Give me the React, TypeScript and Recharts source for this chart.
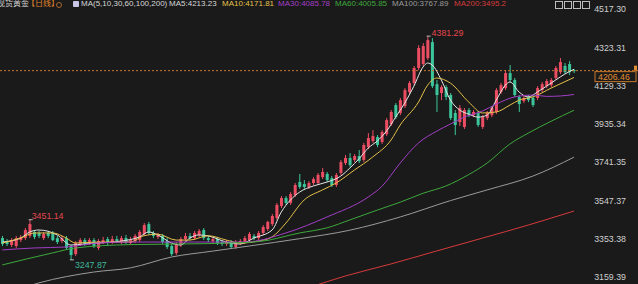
import React from 'react';
import {
  ComposedChart,
  Bar,
  Line,
  XAxis,
  YAxis,
  ReferenceLine,
  ReferenceDot,
} from 'recharts';

// daily OHLC
const opens = [
  3358, 3343, 3323, 3318, 3348, 3358, 3369, 3389, 3384, 3358,
  3384, 3384, 3358, 3343, 3358, 3313, 3277, 3328, 3348, 3333,
  3348, 3308, 3338, 3353, 3333, 3353, 3338, 3358, 3333, 3343,
  3348, 3379, 3429, 3384, 3364, 3369, 3343, 3318, 3282, 3323,
  3353, 3369, 3358, 3374, 3399, 3358, 3343, 3353, 3338, 3328,
  3338, 3313, 3333, 3338, 3348, 3369, 3358, 3384, 3404, 3429,
  3460, 3521, 3561, 3536, 3576, 3642, 3632, 3617, 3637, 3637,
  3667, 3683, 3662, 3627, 3688, 3738, 3764, 3754, 3774, 3754,
  3819, 3850, 3870, 3845, 3885, 3936, 4032, 3992, 4027, 4098,
  4144, 4220, 4240, 4270, 4351, 4138, 4093, 4123, 4083, 3992,
  3946, 3921, 4007, 3981, 3992, 3921, 3966, 3981, 3997, 4098,
  4118, 4194, 4159, 4073, 4052, 4073, 4068, 4068, 4108, 4128,
  4133, 4169, 4199, 4230, 4240, 4209,
];
const highs = [
  3369, 3353, 3358, 3369, 3374, 3409, 3451.14, 3399, 3394, 3389,
  3394, 3394, 3369, 3369, 3369, 3323, 3343, 3358, 3358, 3358,
  3358, 3353, 3364, 3364, 3369, 3369, 3369, 3374, 3364, 3379,
  3399, 3434, 3440, 3394, 3384, 3379, 3358, 3328, 3338, 3364,
  3384, 3384, 3394, 3404, 3409, 3369, 3364, 3364, 3348, 3348,
  3348, 3348, 3353, 3369, 3389, 3379, 3394, 3424, 3446, 3480,
  3536, 3571, 3571, 3591, 3637, 3683, 3652, 3647, 3667, 3688,
  3713, 3693, 3673, 3688, 3754, 3779, 3789, 3784, 3804, 3840,
  3890, 3905, 3880, 3905, 3966, 4007, 4042, 4068, 4118, 4154,
  4230, 4336, 4346, 4381.29, 4371, 4159, 4133, 4133, 4093, 4007,
  4032, 4017, 4017, 4007, 4002, 3981, 4002, 4027, 4118, 4144,
  4209, 4235, 4169, 4083, 4078, 4083, 4078, 4128, 4149, 4164,
  4169, 4230, 4270, 4245, 4255, 4214,
];
const lows = [
  3318, 3318, 3313, 3308, 3338, 3348, 3358, 3353, 3358, 3348,
  3358, 3343, 3328, 3333, 3298, 3247.87, 3267, 3318, 3318, 3323,
  3308, 3298, 3328, 3323, 3328, 3333, 3328, 3328, 3323, 3333,
  3338, 3369, 3374, 3358, 3353, 3328, 3303, 3267, 3272, 3313,
  3343, 3348, 3348, 3364, 3348, 3338, 3333, 3323, 3318, 3318,
  3303, 3303, 3323, 3328, 3338, 3348, 3348, 3374, 3394, 3419,
  3450, 3510, 3526, 3526, 3566, 3607, 3607, 3607, 3627, 3627,
  3657, 3642, 3617, 3617, 3678, 3728, 3718, 3743, 3738, 3743,
  3809, 3840, 3819, 3835, 3875, 3926, 3961, 3981, 4017, 4088,
  4133, 4209, 4230, 4260, 4118, 3997, 4057, 4057, 3956, 3880,
  3926, 3911, 3971, 3971, 3921, 3911, 3956, 3971, 3987, 4088,
  4108, 4148, 4073, 3997, 4042, 4047, 4022, 4057, 4098, 4118,
  4123, 4159, 4189, 4189, 4184, 4194,
];
const closes = [
  3328, 3328, 3348, 3358, 3364, 3399, 3429, 3364, 3369, 3379,
  3369, 3348, 3338, 3358, 3308, 3272, 3333, 3348, 3328, 3348,
  3318, 3343, 3348, 3333, 3353, 3343, 3358, 3338, 3348, 3369,
  3389, 3424, 3384, 3369, 3374, 3338, 3313, 3277, 3328, 3353,
  3369, 3358, 3384, 3394, 3358, 3348, 3353, 3333, 3328, 3338,
  3313, 3338, 3343, 3358, 3379, 3358, 3384, 3414, 3440, 3470,
  3526, 3561, 3536, 3581, 3627, 3617, 3617, 3637, 3657, 3678,
  3693, 3652, 3627, 3678, 3743, 3764, 3728, 3774, 3748, 3830,
  3865, 3875, 3830, 3895, 3956, 3997, 3971, 4057, 4108, 4144,
  4220, 4321, 4331, 4361, 4128, 4083, 4123, 4073, 3966, 3931,
  4017, 4007, 3981, 3997, 3931, 3971, 3992, 4017, 4108, 4133,
  4194, 4159, 4083, 4037, 4068, 4057, 4032, 4118, 4138, 4154,
  4159, 4220, 4250, 4199, 4199, 4206.46,
];

// moving averages, [candle index, value] read at points along each line
const ma5Pts: [number, number][] = [
  [0, 3338], [4, 3358], [6, 3389], [8, 3399], [12, 3374], [15, 3323], [18, 3328],
  [21, 3333], [26, 3343], [30, 3364], [32, 3389], [34, 3374], [37, 3333], [39, 3323],
  [41, 3358], [43, 3374], [45, 3369], [49, 3338], [52, 3328], [55, 3358], [59, 3399],
  [61, 3490], [63, 3551], [65, 3591], [68, 3622], [71, 3642], [74, 3672], [76, 3713],
  [78, 3760], [80, 3814], [82, 3850], [84, 3900], [86, 3971], [88, 4042], [90, 4128],
  [92, 4225], [93, 4245], [94, 4235], [96, 4159], [98, 4057], [100, 4007], [102, 3986],
  [104, 3971], [106, 3981], [108, 4057], [110, 4133], [111, 4149], [113, 4098],
  [115, 4073], [117, 4098], [119, 4128], [121, 4159], [123, 4189], [125, 4213.23],
];
const ma10Pts: [number, number][] = [
  [0, 3333], [4, 3358], [7, 3384], [11, 3384], [14, 3358], [16, 3333], [21, 3338],
  [28, 3338], [31, 3370], [34, 3378], [38, 3348], [41, 3348], [45, 3370], [49, 3348],
  [52, 3333], [56, 3343], [59, 3364], [62, 3434], [66, 3551], [70, 3602], [73, 3637],
  [77, 3703], [81, 3769], [85, 3855], [87, 3931], [91, 4047], [93, 4133], [95, 4169],
  [98, 4143], [102, 4047], [105, 3992], [108, 3997], [111, 4032], [113, 4057],
  [116, 4073], [120, 4118], [125, 4171.81],
];
const ma30Pts: [number, number][] = [
  [0, 3298], [7, 3308], [14, 3313], [21, 3333], [28, 3338], [43, 3338], [53, 3338],
  [62, 3384], [71, 3465], [80, 3566], [83, 3620], [87, 3738], [91, 3840], [95, 3900],
  [98, 3936], [101, 3971], [105, 4002], [108, 4037], [112, 4073], [116, 4083],
  [119, 4076], [122, 4078], [125, 4085.78],
];
const ma60Pts: [number, number][] = [
  [0, 3222], [11, 3283], [16, 3308], [28, 3325], [45, 3330], [56, 3340], [65, 3384],
  [71, 3410], [76, 3450], [82, 3500], [87, 3540], [92, 3585], [97, 3622], [102, 3680],
  [106, 3738], [111, 3835], [115, 3890], [120, 3950], [125, 4005.85],
];
const ma100Pts: [number, number][] = [
  [0, 3070], [8, 3131], [20, 3186], [28, 3207], [37, 3262], [46, 3292], [54, 3318],
  [65, 3355], [76, 3398], [87, 3465], [98, 3548], [106, 3602], [116, 3672],
  [125, 3767.89],
];
const ma200Pts: [number, number][] = [
  [60, 3060], [68, 3115], [75, 3166], [85, 3227], [95, 3293], [105, 3358],
  [115, 3424], [125, 3495.2],
];

const yTicks = [3159.39, 3353.38, 3547.37, 3741.35, 3935.34, 4129.33, 4323.31, 4517.3];
const lastPrice = 4206.46;
const peakHigh = { idx: 93, value: 4381.29 };
const earlyHigh = { idx: 6, value: 3451.14 };
const earlyLow = { idx: 15, value: 3247.87 };

const maNames = ['MA5', 'MA10', 'MA30', 'MA60', 'MA100', 'MA200'];
const maLast = [4213.23, 4171.81, 4085.78, 4005.85, 3767.89, 3495.2];

const UP = '#ec4d63';
const DOWN = '#3cc59a';
const maColors = ['#e6e6e6', '#e5c14a', '#a23ec6', '#3da83d', '#9a9a9a', '#d63b3b'];
const maKeys = ['ma5', 'ma10', 'ma30', 'ma60', 'ma100', 'ma200'];
const maPts = [ma5Pts, ma10Pts, ma30Pts, ma60Pts, ma100Pts, ma200Pts];

const rows = opens.map((open, i) => {
  const row: any = {
    i,
    open,
    high: highs[i],
    low: lows[i],
    close: closes[i],
    range: [lows[i], highs[i]],
  };
  maKeys.forEach((k, j) => {
    const hit = maPts[j].find((p) => p[0] === i);
    row[k] = hit ? hit[1] : null;
  });
  return row;
});

const Candle = (props: any) => {
  const { x, y, width, height, payload } = props;
  const { open, close, high, low } = payload;
  const top = height < 0 ? y + height : y;
  const h = Math.abs(height);
  const k = h / (high - low);
  const bodyTop = top + (high - Math.max(open, close)) * k;
  const bodyH = Math.max(1, Math.abs(close - open) * k);
  const color = close >= open ? UP : DOWN;
  const cx = x + width / 2;
  return (
    <g>
      <line x1={cx} x2={cx} y1={top} y2={top + h} stroke={color} strokeWidth={1} />
      <rect x={x} y={bodyTop} width={width} height={bodyH} fill={color} />
    </g>
  );
};

const AxisTick = (props: any) => {
  const { x, y, payload } = props;
  return (
    <text x={x - 10} y={y} dy={3} textAnchor="end" fill="#cfcfcf" fontSize={8.8}>
      {payload.value.toFixed(2)}
    </text>
  );
};

const PriceTag = (props: any) => {
  const vb = props.viewBox;
  const right = vb.x + vb.width;
  return (
    <g>
      <rect x={right - 43} y={vb.y + 1} width={41} height={10} fill="#1a1a1a" stroke="#c9782a" strokeWidth={1} />
      <text x={right - 40} y={vb.y + 9.5} fill="#e08d33" fontSize={8.8}>
        {lastPrice.toFixed(2)}
      </text>
      <rect x={right - 4} y={vb.y - 5} width={3} height={5} fill="#e08d33" />
    </g>
  );
};

const markLabel = (text: string, color: string, dx: number, dy: number) => (p: any) => (
  <g>
    <line x1={p.cx - 1} x2={p.cx + 3} y1={p.cy} y2={p.cy} stroke="#bbbbbb" strokeWidth={1} />
    <text x={p.cx + dx} y={p.cy + dy} fill={color} fontSize={8.8}>
      {text}
    </text>
  </g>
);

const headerLeft = [169, 222, 278, 335, 392, 454];

const App: React.FC = () => {
  return (
    <div
      style={{
        position: 'absolute',
        left: 0,
        top: 0,
        width: 638,
        height: 284,
        background: '#1a1a1a',
        overflow: 'hidden',
        fontFamily: '"Liberation Sans", "Noto Sans CJK SC", sans-serif',
      }}
    >
      <ComposedChart width={638} height={284} data={rows} margin={{ top: 0, right: 0, left: 0, bottom: 0 }}>
        <XAxis dataKey="i" type="number" domain={[-0.5, 139]} hide />
        <YAxis
          orientation="right"
          mirror
          domain={[3125.4, 4564.4]}
          allowDataOverflow
          ticks={yTicks}
          interval={0}
          axisLine={false}
          tickLine={false}
          tickSize={0}
          tick={<AxisTick />}
        />
        <ReferenceLine
          y={lastPrice}
          stroke="#c9782a"
          strokeDasharray="2 2"
          label={(p: any) => <PriceTag {...p} />}
        />
        <Bar dataKey="range" barSize={3} shape={<Candle />} isAnimationActive={false} />
        {maKeys.map((k, j) => (
          <Line
            key={k}
            type="monotone"
            dataKey={k}
            stroke={maColors[j]}
            strokeWidth={1}
            dot={false}
            activeDot={false}
            connectNulls
            isAnimationActive={false}
          />
        ))}
        <ReferenceDot
          x={peakHigh.idx}
          y={peakHigh.value}
          r={0}
          shape={markLabel(peakHigh.value.toFixed(2), '#e5484f', 4, 0)}
        />
        <ReferenceDot
          x={earlyHigh.idx}
          y={earlyHigh.value}
          r={0}
          shape={markLabel(earlyHigh.value.toFixed(2), '#e5484f', 2, -1)}
        />
        <ReferenceDot
          x={earlyLow.idx}
          y={earlyLow.value}
          r={0}
          shape={markLabel(earlyLow.value.toFixed(2), '#3fb89a', 4, 8)}
        />
      </ComposedChart>

      <div style={{ position: 'absolute', left: 0, top: -1, width: 638, height: 10, fontSize: 8, lineHeight: '10px', whiteSpace: 'nowrap' }}>
        <span style={{ position: 'absolute', left: -3, color: '#d0d0d0' }}>现货黄金</span>
        <span style={{ position: 'absolute', left: 27, color: '#e0862c' }}>【日线】</span>
        <span style={{ position: 'absolute', left: 56, top: 3, width: 4, height: 4, border: '1px solid #a8662a', borderRadius: 3 }} />
        <span style={{ position: 'absolute', left: 73, top: 2, width: 6, height: 6, background: '#c9c6e6', borderRadius: 1 }} />
        <span style={{ position: 'absolute', left: 81, color: '#d6d6d6' }}>MA(5,10,30,60,100,200)</span>
        {maNames.map((n, j) => (
          <span key={n} style={{ position: 'absolute', left: headerLeft[j], color: maColors[j] === '#e6e6e6' ? '#d6d6d6' : maColors[j] }}>
            {n}:{maLast[j]}
          </span>
        ))}
        {[555, 564, 573, 582].map((l) => (
          <span key={l} style={{ position: 'absolute', left: l, top: 2, width: 6, height: 6, border: '1px solid #bdbdbd' }} />
        ))}
      </div>
    </div>
  );
};

export default App;
